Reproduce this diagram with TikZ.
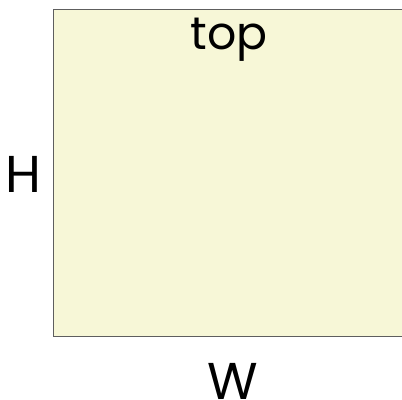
\documentclass[tikz,border=0pt]{standalone}
\usepackage{fontspec}
\setmainfont{Poppins}
\usetikzlibrary{positioning}
\definecolor{boxfill}{HTML}{F7F7D7}
\definecolor{boxline}{HTML}{5E5E5E}
\begin{document}
\begin{tikzpicture}[x=1bp,y=-1bp,
            box/.style={draw=boxline,fill=boxfill,line width=1.4bp,
                    minimum width=352bp,minimum height=327bp,inner sep=0pt},
            lbl/.style={font=\fontsize{52}{52}\selectfont,inner sep=0pt}]
        \useasboundingbox (0,0) rectangle (402,400);
        \clip (0,0) rectangle (402,400);

        \node[box,anchor=north west] (field) at (52.5,9) {};
        \node[lbl,anchor=base,font=\fontsize{46}{46}\selectfont] (top) at ([yshift=-40bp]field.north) {top};
        \node[lbl,left=11bp of field,yshift=-1bp] (H) {H};
        \node[lbl,below=26bp of field,xshift=4bp] (W) {W};
    \end{tikzpicture}
\end{document}
